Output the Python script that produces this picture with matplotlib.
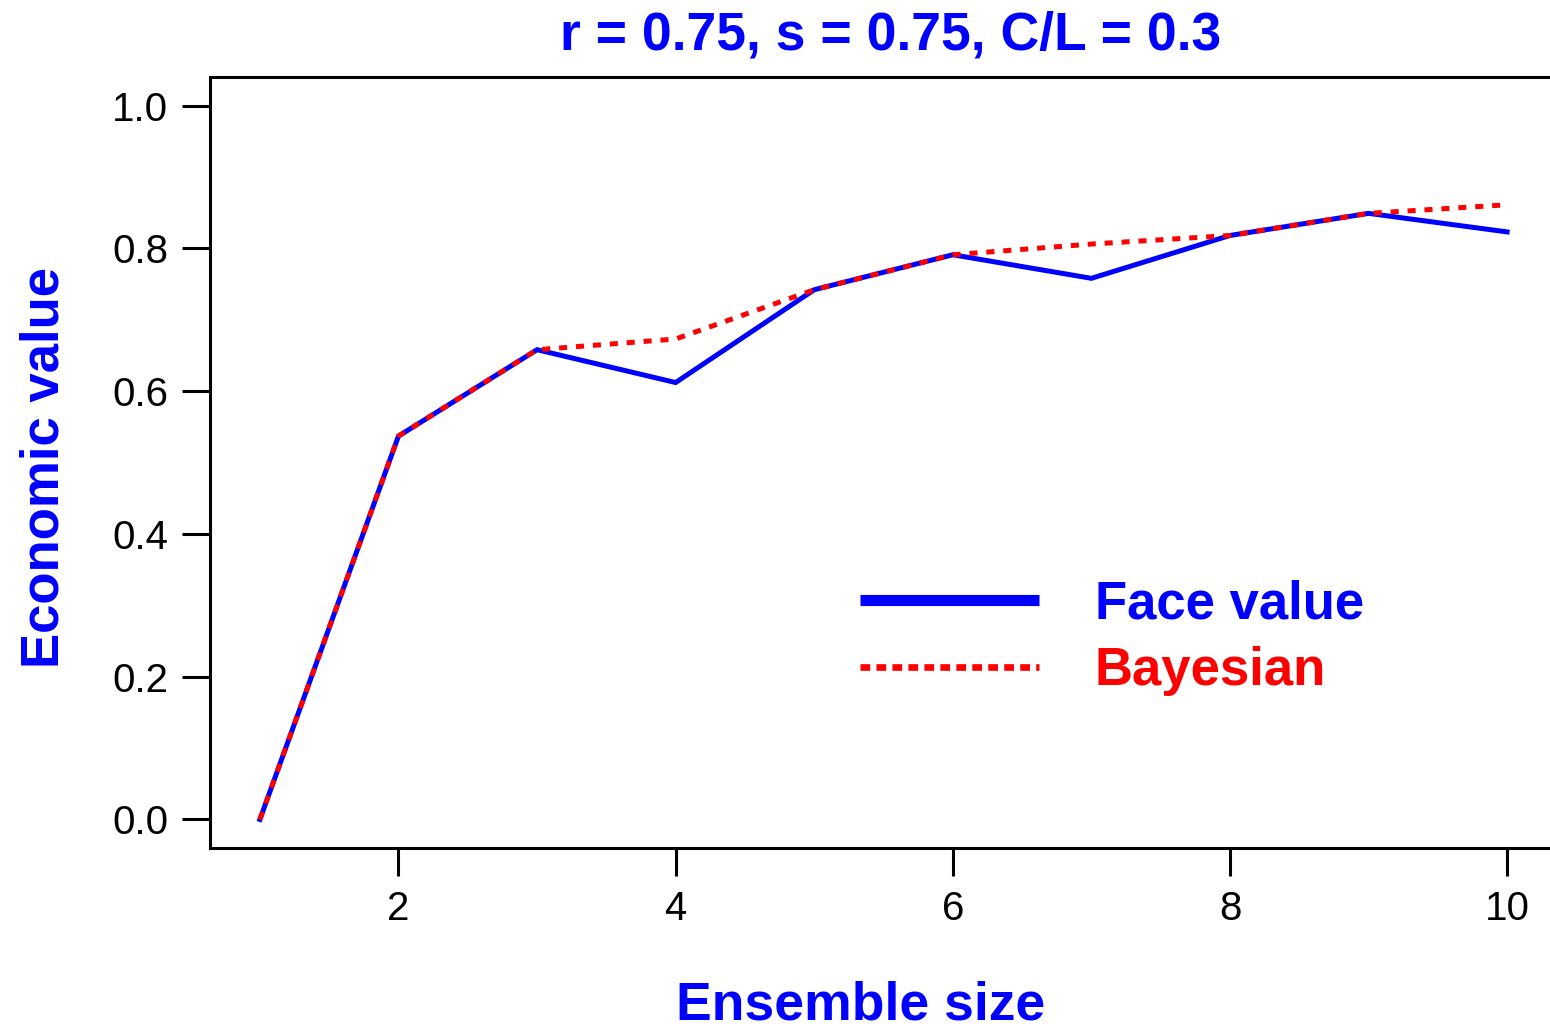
import numpy as np
import matplotlib
matplotlib.use("Agg")
import matplotlib.pyplot as plt
from matplotlib.lines import Line2D

# values
ensemble_size = [1, 2, 3, 4, 5, 6, 7, 8, 9, 10]
face_value = [0.0, 0.537, 0.658, 0.612, 0.742, 0.791, 0.758, 0.818, 0.849, 0.823]
bayesian = [0.0, 0.537, 0.658, 0.673, 0.742, 0.791, 0.806, 0.818, 0.849, 0.861]

x_ticks = [2, 4, 6, 8, 10]
y_ticks = [0.0, 0.2, 0.4, 0.6, 0.8, 1.0]
title_text = "r = 0.75, s = 0.75, C/L = 0.3"

plt.rcParams['font.family'] = ['Liberation Sans', 'DejaVu Sans']
plt.rcParams['lines.scale_dashes'] = False

W, H = 1550, 1026
fig = plt.figure(figsize=(W / 100, H / 100), dpi=100)
# plot region: left 210px, bottom 848px, top 77px, right edge just past the image
ax = fig.add_axes([210 / W, (H - 848) / H, (1557 - 210) / W, (848 - 77) / H])

ax.plot(ensemble_size, face_value, color='blue', lw=3.6, solid_joinstyle='miter')
ax.plot(ensemble_size, bayesian, color='red', lw=3.6, dashes=(5.8, 6.4))

ax.set_xlim(0.64, 10.36)
ax.set_ylim(-0.04, 1.04)
ax.set_xticks(x_ticks)
ax.set_yticks(y_ticks)
ax.set_xticklabels([str(t) for t in x_ticks])
ax.set_yticklabels(["%.1f" % t for t in y_ticks])
ax.tick_params(axis='both', labelsize=29, length=20, width=2.2, pad=10)
ax.tick_params(axis='y', pad=10)
for s in ax.spines.values():
    s.set_linewidth(2.2)

ax.set_title(title_text, fontsize=38.5, fontweight='bold', color='blue', va='baseline',
             y=(848 - 50) / 771, pad=0)
ax.title.set_x((891 - 210) / 1347)

ax.set_xlabel("Ensemble size", fontsize=38.5, fontweight='bold', color='blue', va='baseline')
ax.xaxis.set_label_coords(861 / W, (H - 1020) / H, transform=fig.transFigure)
ax.set_ylabel("Economic value", fontsize=38, fontweight='bold', color='blue', va='baseline')
ax.yaxis.set_label_coords(59 / W, (H - 468) / H, transform=fig.transFigure)

handles = [Line2D([], [], color='blue', lw=8, solid_capstyle='butt'),
           Line2D([], [], color='red', lw=4.8, dashes=(7, 4.5), dash_capstyle='butt')]
leg = ax.legend(handles, ["Face value", "Bayesian"], loc='center left',
                bbox_to_anchor=(860 / W, (H - 638) / H), bbox_transform=fig.transFigure,
                frameon=False, handlelength=3.4, handletextpad=1.05, labelspacing=0.31,
                borderpad=0, borderaxespad=0,
                prop={'size': 38, 'weight': 'bold'})
for txt, c in zip(leg.get_texts(), ['blue', 'red']):
    txt.set_color(c)

fig.savefig("out.png", dpi=100)
